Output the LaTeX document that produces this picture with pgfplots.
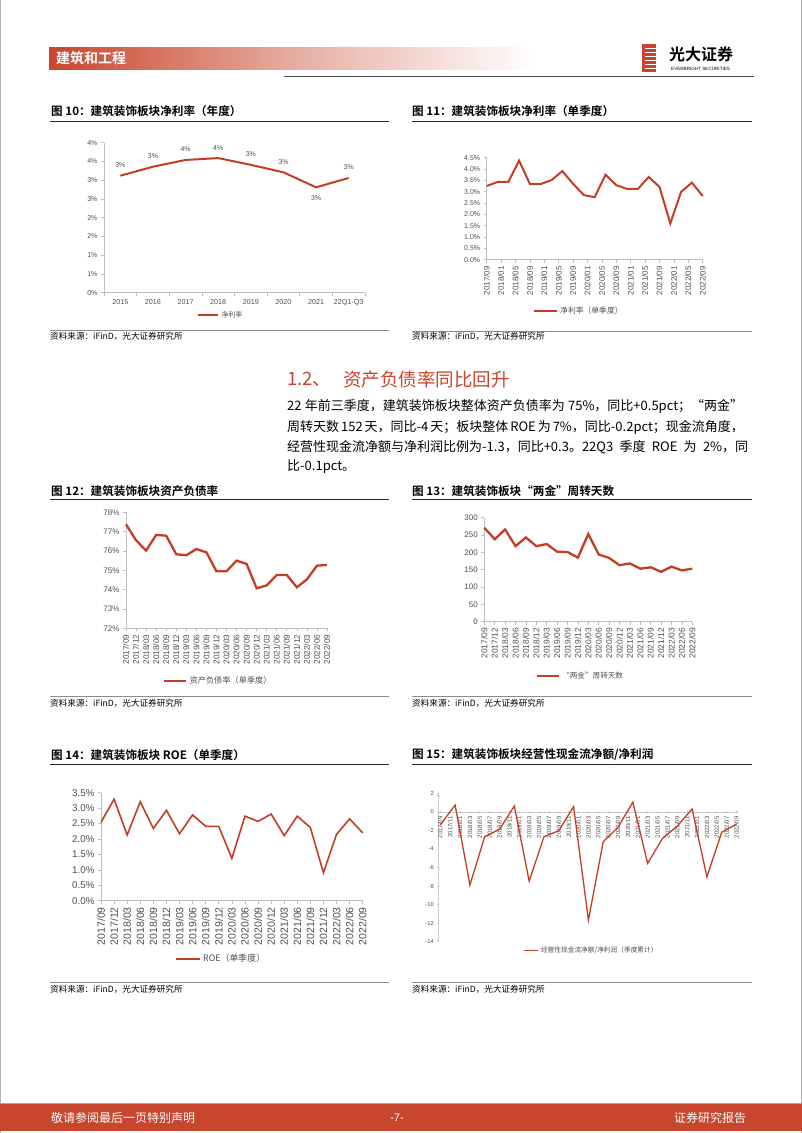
\documentclass[border=0pt]{standalone}
\usepackage{fontspec}
\setmainfont{Liberation Sans}
\newfontfamily\cjk{Noto Sans CJK SC}[BoldFont={Noto Sans CJK SC Bold}]
\usepackage{pgfplots}
\pgfplotsset{compat=1.18}
\XeTeXlinebreaklocale "zh"
\XeTeXlinebreakskip=0pt plus 1.5pt

\definecolor{lred}{RGB}{196,62,38}
\definecolor{hdr}{RGB}{200,70,45}
\definecolor{axg}{RGB}{191,191,191}
\definecolor{lbl}{RGB}{80,80,80}
\newcommand\fs[1]{\fontsize{#1}{#1}\selectfont}

\pgfplotsset{
  rep/.style={
    scale only axis, anchor=south west, clip=false,
    axis x line*=bottom, axis y line*=left,
    axis line style={draw=axg, line width=0.7pt},
    tick style={draw=axg, line width=0.7pt},
    tick align=outside, major tick length=3pt,
    /pgf/number format/assume math mode=true,
    ticklabel style={text=lbl},
    legend style={draw=none, fill=none, text=lbl, anchor=center},
  },
  qlabels/.style={
    xmin=0, xmax=20, xtick={0,...,20},
    xticklabels={2017/09,2017/12,2018/03,2018/06,2018/09,2018/12,2019/03,2019/06,2019/09,2019/12,2020/03,2020/06,2020/09,2020/12,2021/03,2021/06,2021/09,2021/12,2022/03,2022/06,2022/09},
  },
}

\begin{document}
\begin{tikzpicture}
\useasboundingbox (0,0) rectangle (802pt,-1133pt);
\fill[white] (0,0) rectangle (802pt,-1133pt);

\begin{scope}[x=1pt,y=-1pt]
% page frame
\draw[gray!60, line width=0.8pt] (0.4,0) -- (0.4,1133) (801.6,0) -- (801.6,1133);
% header
\shade[left color=hdr, right color=white, middle color=hdr!45] (49,47) rectangle (535,69);
\node[anchor=west, inner sep=0pt, text=white] at (56,58) {\cjk\bfseries\fs{14}建筑和工程};
\draw[black!70, line width=1.4pt] (284,76.5) -- (754,76.5);
\fill[hdr] (642,44) rectangle (656,72);
\foreach \yy in {48,52,56,60,64,68} \draw[white, line width=0.9pt] (645,\yy) -- (656,\yy);
\node[anchor=west, inner sep=0pt] at (669,54) {\cjk\bfseries\fs{16}光大证券};
\node[anchor=west, inner sep=0pt] at (671,68.5) {\fs{4.6}EVERBRIGHT SECURITIES};

% chart titles and rules
\foreach \xa/\xb/\ty/\ry/\sy/\sr in {50/389/111/121/336/330, 412/752/111/121/336/331, 50/389/491/499/703/696, 412/752/491/499/703/696, 50/389/755/764/989/982, 412/752/755/764/989/982}{
  \draw[black!85, line width=0.8pt] (\xa,\ry) -- (\xb,\ry);
  \draw[black!45, line width=0.8pt] (\xa,\sr) -- (\xb,\sr);
  \node[anchor=west, inner sep=0pt] at (\xa,\sy) {\cjk\fs{8.6}资料来源：iFinD，光大证券研究所};
}
\node[anchor=west, inner sep=0pt] at (51,111) {\cjk\bfseries\fs{11.6}图 10：建筑装饰板块净利率（年度）};
\node[anchor=west, inner sep=0pt] at (412,111) {\cjk\bfseries\fs{11.6}图 11：建筑装饰板块净利率（单季度）};
\node[anchor=west, inner sep=0pt] at (51,491) {\cjk\bfseries\fs{11.6}图 12：建筑装饰板块资产负债率};
\node[anchor=west, inner sep=0pt] at (412,491) {\cjk\bfseries\fs{11.6}图 13：建筑装饰板块“两金”周转天数};
\node[anchor=west, inner sep=0pt] at (51,755) {\cjk\bfseries\fs{11.6}图 14：建筑装饰板块 ROE（单季度）};
\node[anchor=west, inner sep=0pt] at (412,755) {\cjk\bfseries\fs{11.6}图 15：建筑装饰板块经营性现金流净额/净利润};

% section heading and text
\node[anchor=west, inner sep=0pt, text=hdr] at (287,379) {\cjk\fs{18.5}1.2、};
\node[anchor=west, inner sep=0pt, text=hdr] at (343,379) {\cjk\fs{18.5}资产负债率同比回升};
\node[anchor=west, inner sep=0pt] at (287,406) {\cjk\fs{13}\makebox[456pt][s]{22 年前三季度，建筑装饰板块整体资产负债率为 75\%，同比+0.5pct；“两金”}};
\node[anchor=west, inner sep=0pt] at (287,427) {\cjk\fs{13}\makebox[456pt][s]{周转天数 152 天，同比-4 天；板块整体 ROE 为 7\%，同比-0.2pct；现金流角度，}};
\node[anchor=west, inner sep=0pt] at (287,447) {\cjk\fs{13}\makebox[461pt][s]{经营性现金流净额与净利润比例为-1.3，同比+0.3。22Q3 季度 ROE 为 2\%，同}};
\node[anchor=west, inner sep=0pt] at (287,467) {\cjk\fs{13}比-0.1pct。};

% footer
\fill[hdr] (0,1104) rectangle (802,1131);
\draw[gray!70, line width=0.8pt] (0,1103.5) -- (802,1103.5);
\node[anchor=west, inner sep=0pt, text=white] at (51,1117.5) {\cjk\fs{12}敬请参阅最后一页特别声明};
\node[inner sep=0pt, text=white] at (397,1117.5) {\fs{11}-7-};
\node[anchor=west, inner sep=0pt, text=white] at (674,1117.5) {\cjk\fs{12}证券研究报告};
\end{scope}

% ---- Fig 10 ----
\begin{axis}[rep, at={(104pt,-292.7pt)}, width=261pt, height=150pt,
  xmin=-0.5, xmax=7.5, ymin=0, ymax=4,
  xtick={-0.5,0.5,...,7.5}, x tick label as interval,
  xticklabels={2015,2016,2017,2018,2019,2020,2021,22Q1-Q3},
  ytick={0,0.5,...,4}, yticklabels={0\%,1\%,1\%,2\%,2\%,3\%,3\%,4\%,4\%},
  x tick label style={font=\fs{7.2}}, y tick label style={font=\fs{7}},
  legend style={at={(0.448,-0.149)}, font=\fs{7}\cjk},
  legend image code/.code={\draw[#1] (0pt,0pt) -- (20pt,0pt);},
]
\addplot[lred, line width=2pt, point meta=y,
  nodes near coords={\pgfmathprintnumber[fixed,precision=0]{\pgfplotspointmeta}\%},
  visualization depends on={value \thisrow{p} \as \lp},
  every node near coord/.append style={anchor=\lp, font=\fs{7}, text=lbl, inner sep=0pt, outer sep=8pt}]
  table[x=x, y=y] {
x y p
0 3.12 south
1 3.36 south
2 3.54 south
3 3.59 south
4 3.41 south
5 3.21 south
6 2.81 north
7 3.06 south
};
\addlegendentry{净利率}
\end{axis}

% ---- Fig 11 ----
\begin{axis}[rep, at={(486.7pt,-259.7pt)}, width=216pt, height=102pt,
  xmin=0, xmax=60, ymin=0, ymax=4.5,
  xtick={0,4,...,60},
  xticklabels={2017/09,2018/01,2018/05,2018/09,2019/01,2019/05,2019/09,2020/01,2020/05,2020/09,2021/01,2021/05,2021/09,2022/01,2022/05,2022/09},
  x tick label style={rotate=90, anchor=east, font=\fs{8}},
  ytick={0,0.5,...,4.5},
  yticklabel={\pgfmathprintnumber[fixed,fixed zerofill,precision=1]{\tick}\%},
  y tick label style={font=\fs{7}},
  legend style={at={(0.427,-0.503)}, font=\fs{7.8}\cjk},
  legend image code/.code={\draw[#1] (0pt,0pt) -- (23pt,0pt);},
]
\addplot[lred, line width=2pt] coordinates {
(0,3.25) (3,3.43) (6,3.43) (9,4.37) (12,3.34) (15,3.34) (18,3.51) (21,3.91)
(24,3.35) (27,2.85) (30,2.76) (33,3.75) (36,3.29) (39,3.12) (42,3.12) (45,3.65)
(48,3.21) (51,1.60) (54,2.99) (57,3.40) (60,2.81)
};
\addlegendentry{净利率（单季度）}
\end{axis}

% ---- Fig 12 ----
\begin{axis}[rep, qlabels, at={(126pt,-628.3pt)}, width=201pt, height=116pt,
  ymin=72, ymax=78, ytick={72,...,78},
  yticklabel={\pgfmathprintnumber{\tick}\%},
  x tick label style={rotate=90, anchor=east, font=\fs{8.2}},
  y tick label style={font=\fs{8}},
  legend style={at={(0.46,-0.452)}, font=\fs{8.2}\cjk},
  legend image code/.code={\draw[#1] (0pt,0pt) -- (22pt,0pt);},
]
\addplot[lred, line width=2.3pt] coordinates {
(0,77.38) (1,76.55) (2,76.02) (3,76.83) (4,76.79) (5,75.83) (6,75.78) (7,76.10)
(8,75.93) (9,74.95) (10,74.95) (11,75.50) (12,75.33) (13,74.07) (14,74.22)
(15,74.76) (16,74.76) (17,74.12) (18,74.53) (19,75.24) (20,75.28)
};
\addlegendentry{资产负债率（单季度）}
\end{axis}

% ---- Fig 13 ----
\begin{axis}[rep, qlabels, at={(484.3pt,-621.7pt)}, width=208pt, height=104pt,
  ymin=0, ymax=300, ytick={0,50,...,300},
  x tick label style={rotate=90, anchor=east, font=\fs{8.4}},
  y tick label style={font=\fs{8}},
  legend style={at={(0.4625,-0.519)}, font=\fs{7.6}\cjk},
  legend image code/.code={\draw[#1] (0pt,0pt) -- (22pt,0pt);},
]
\addplot[lred, line width=2.3pt] coordinates {
(0,271) (1,238) (2,266) (3,218) (4,243) (5,218) (6,224) (7,202) (8,201) (9,185)
(10,253) (11,194) (12,184) (13,163) (14,168) (15,153) (16,157) (17,144) (18,159)
(19,148) (20,153)
};
\addlegendentry{“两金”周转天数}
\end{axis}

% ---- Fig 14 ----
\begin{axis}[rep, qlabels, at={(101pt,-900.7pt)}, width=261.7pt, height=108pt,
  ymin=0, ymax=3.5, ytick={0,0.5,...,3.5},
  yticklabel={\pgfmathprintnumber[fixed,fixed zerofill,precision=1]{\tick}\%},
  x tick label style={rotate=90, anchor=east, font=\fs{10.5}},
  y tick label style={font=\fs{9.8}},
  legend style={at={(0.46,-0.537)}, font=\fs{8.9}\cjk},
  legend image code/.code={\draw[#1] (0pt,0pt) -- (24pt,0pt);},
]
\addplot[lred, line width=1.6pt] coordinates {
(0,2.54) (1,3.29) (2,2.13) (3,3.21) (4,2.34) (5,2.93) (6,2.17) (7,2.78) (8,2.41)
(9,2.41) (10,1.37) (11,2.74) (12,2.57) (13,2.81) (14,2.11) (15,2.74) (16,2.37)
(17,0.91) (18,2.15) (19,2.65) (20,2.20)
};
\addlegendentry{ROE（单季度）}
\end{axis}

% ---- Fig 15 ----
\begin{axis}[rep, at={(438.3pt,-941.7pt)}, width=300.7pt, height=148.4pt,
  axis x line=middle, axis y line=left,
  axis line style={draw=black!20, line width=0.6pt},
  xmin=-0.4, xmax=60.5, ymin=-14, ymax=2,
  xtick={0,2,...,60},
  xticklabels={2017/09,2017/11,2018/01,2018/03,2018/05,2018/07,2018/09,2018/11,2019/01,2019/03,2019/05,2019/07,2019/09,2019/11,2020/01,2020/03,2020/05,2020/07,2020/09,2020/11,2021/01,2021/03,2021/05,2021/07,2021/09,2021/11,2022/01,2022/03,2022/05,2022/07,2022/09},
  x tick label style={rotate=90, anchor=east, font=\fs{6}},
  ytick={-14,-12,...,2}, y tick label style={font=\fs{5.8}},
  major tick length=2pt,
  legend style={at={(0.51,-0.061)}, font=\fs{6.7}\cjk},
  legend image code/.code={\draw[#1] (0pt,0pt) -- (14pt,0pt);},
]
\addplot[lred, line width=1.3pt] coordinates {
(0,-1.42) (3,0.74) (6,-7.89) (9,-2.68) (12,-1.88) (15,0.63) (18,-7.46) (21,-2.68)
(24,-2.03) (27,0.56) (30,-11.67) (33,-3.22) (36,-1.67) (39,1.06) (42,-5.55)
(45,-2.86) (48,-1.53) (51,0.31) (54,-7.0) (57,-2.2) (60,-1.31)
};
\addlegendentry{经营性现金流净额/净利润（季度累计）}
\end{axis}
\end{tikzpicture}
\end{document}
